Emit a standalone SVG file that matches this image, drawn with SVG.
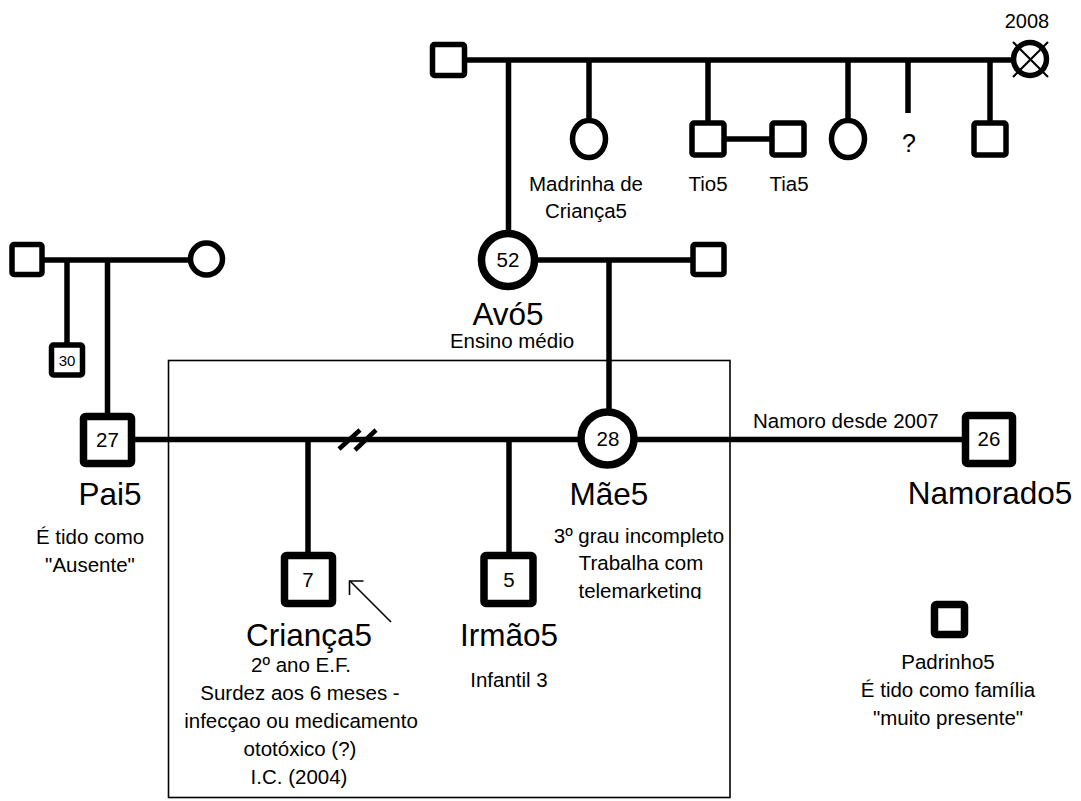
<svg xmlns="http://www.w3.org/2000/svg" width="1081" height="801" viewBox="0 0 1081 801">
<style>
text{font-family:"Liberation Sans",Arial,sans-serif;fill:#000}
.c{text-anchor:middle}
.s20{font-size:20.5px}
.s32{font-size:31.5px}
.ln{stroke:#000;stroke-width:5.5;fill:none}
.nd{fill:#fff;stroke:#000;stroke-width:5.5}
.nb{fill:#fff;stroke:#000;stroke-width:7.5}
</style>
<defs>
<clipPath id="mclip"><rect x="540" y="500" width="200" height="99"/></clipPath>
</defs>
<rect x="168.5" y="360.5" width="561.5" height="437" fill="none" stroke="#000" stroke-width="1.6"/>
<g id="connectors">
<line class="ln" x1="465" y1="60" x2="1012" y2="60"/>
<line class="ln" x1="508.5" y1="60" x2="508.5" y2="232"/>
<line class="ln" x1="589" y1="60" x2="589" y2="121"/>
<line class="ln" x1="708" y1="60" x2="708" y2="124"/>
<line class="ln" x1="848" y1="60" x2="848" y2="121"/>
<line class="ln" x1="908" y1="60" x2="908" y2="113"/>
<line class="ln" x1="990" y1="60" x2="990" y2="124"/>
<line class="ln" x1="724" y1="139" x2="772" y2="139"/>
<line class="ln" x1="44" y1="260" x2="190" y2="260"/>
<line class="ln" x1="67" y1="260" x2="67" y2="344"/>
<line class="ln" x1="107.5" y1="260" x2="107.5" y2="414"/>
<line class="ln" x1="535" y1="260" x2="692" y2="260"/>
<line class="ln" x1="609" y1="260" x2="609" y2="410"/>
<line class="ln" x1="132" y1="439.5" x2="580" y2="439.5"/>
<line class="ln" x1="636" y1="439.5" x2="966" y2="439.5"/>
<line class="ln" x1="308" y1="439.5" x2="308" y2="556"/>
<line class="ln" x1="509" y1="439.5" x2="509" y2="556"/>
<line stroke="#000" stroke-width="4.5" x1="339" y1="449" x2="360" y2="430"/>
<line stroke="#000" stroke-width="4.5" x1="355" y1="450" x2="376" y2="430"/>
<line stroke="#000" stroke-width="1.6" x1="391" y1="622" x2="350" y2="581"/>
<polyline points="349.5,595 349.5,581 363.5,581" fill="none" stroke="#000" stroke-width="1.6"/>
</g>
<g id="n-ggf"><rect class="nd" x="432.5" y="44.5" width="32" height="31" rx="2"/></g>
<g id="n-ggm"><circle class="nd" cx="1030" cy="59" r="16.5"/><line stroke="#000" stroke-width="2.2" x1="1013" y1="42" x2="1048" y2="77"/><line stroke="#000" stroke-width="2.2" x1="1048" y1="42" x2="1013" y2="77"/><text class="c" x="1027" y="28" style="font-size:20px">2008</text></g>
<g id="n-madrinha"><ellipse class="nd" cx="589" cy="139" rx="16.5" ry="18.5"/><text class="c s20" x="586" y="191">Madrinha de</text><text class="c s20" x="586" y="218">Criança5</text></g>
<g id="n-tio"><rect class="nd" x="692" y="123" width="32" height="32" rx="2"/><text class="c s20" x="708" y="191">Tio5</text></g>
<g id="n-tia"><rect class="nd" x="772" y="123" width="32" height="32" rx="2"/><text class="c s20" x="789" y="191">Tia5</text></g>
<g id="n-tia2"><ellipse class="nd" cx="848" cy="139" rx="16.5" ry="18.5"/></g>
<g id="n-unk"><text class="c" x="909" y="152" style="font-size:25px">?</text></g>
<g id="n-tio2"><rect class="nd" x="974" y="123" width="32" height="32" rx="2"/></g>
<g id="n-pgf"><rect class="nd" x="12" y="244.5" width="30" height="30" rx="2"/></g>
<g id="n-pgm"><circle class="nd" cx="206.5" cy="259" r="16"/></g>
<g id="n-tio30"><rect class="nd" x="51.5" y="345" width="31" height="30" rx="2"/><text class="c" x="67" y="366" style="font-size:15px">30</text></g>
<g id="n-avo"><circle class="nb" cx="508" cy="260" r="26.5"/><text class="c s20" x="508" y="267">52</text><text class="c s32" x="508" y="325">Avó5</text><text class="c s20" x="512" y="348">Ensino médio</text></g>
<g id="n-avop"><rect class="nd" x="693" y="244.5" width="31" height="30" rx="2"/></g>
<g id="n-pai"><rect class="nb" x="83.5" y="416.5" width="48" height="47" rx="2"/><text class="c s20" x="107.5" y="447">27</text><text class="c s32" x="110" y="505">Pai5</text><text class="c s20" x="90" y="544">É tido como</text><text class="c s20" x="90" y="572">"Ausente"</text></g>
<g id="n-mae"><circle class="nb" cx="607.5" cy="438.5" r="26.5"/><text class="c s20" x="608" y="446">28</text><text class="c s32" x="609" y="505">Mãe5</text><text class="c s20" x="639" y="543">3º grau incompleto</text><text class="c s20" x="641" y="570">Trabalha com</text><text class="c s20" x="640" y="598" clip-path="url(#mclip)">telemarketing</text></g>
<g id="n-namorado"><rect class="nb" x="965.5" y="415.5" width="47" height="48" rx="2"/><text class="c s20" x="989" y="446">26</text><text x="753" y="428" class="s20">Namoro desde 2007</text><text class="c s32" x="990" y="504">Namorado5</text></g>
<g id="n-crianca"><rect class="nb" x="284.5" y="555.5" width="48" height="48" rx="2"/><text class="c s20" x="308" y="587">7</text><text class="c s32" x="309" y="646">Criança5</text><text class="c s20" x="301" y="672">2º ano E.F.</text><text class="c s20" x="300" y="700">Surdez aos 6 meses -</text><text class="c s20" x="301" y="728">infecçao ou medicamento</text><text class="c s20" x="300" y="756">ototóxico (?)</text><text class="c s20" x="299" y="784">I.C. (2004)</text></g>
<g id="n-irmao"><rect class="nb" x="484" y="555.5" width="49" height="48" rx="2"/><text class="c s20" x="509" y="587">5</text><text class="c s32" x="509" y="646">Irmão5</text><text class="c s20" x="509" y="687">Infantil 3</text></g>
<g id="n-padrinho"><rect class="nb" x="934.5" y="604.5" width="30" height="30" rx="2"/><text class="c s20" x="948" y="669">Padrinho5</text><text class="c s20" x="948" y="697">É tido como família</text><text class="c s20" x="948" y="725">"muito presente"</text></g>
</svg>
